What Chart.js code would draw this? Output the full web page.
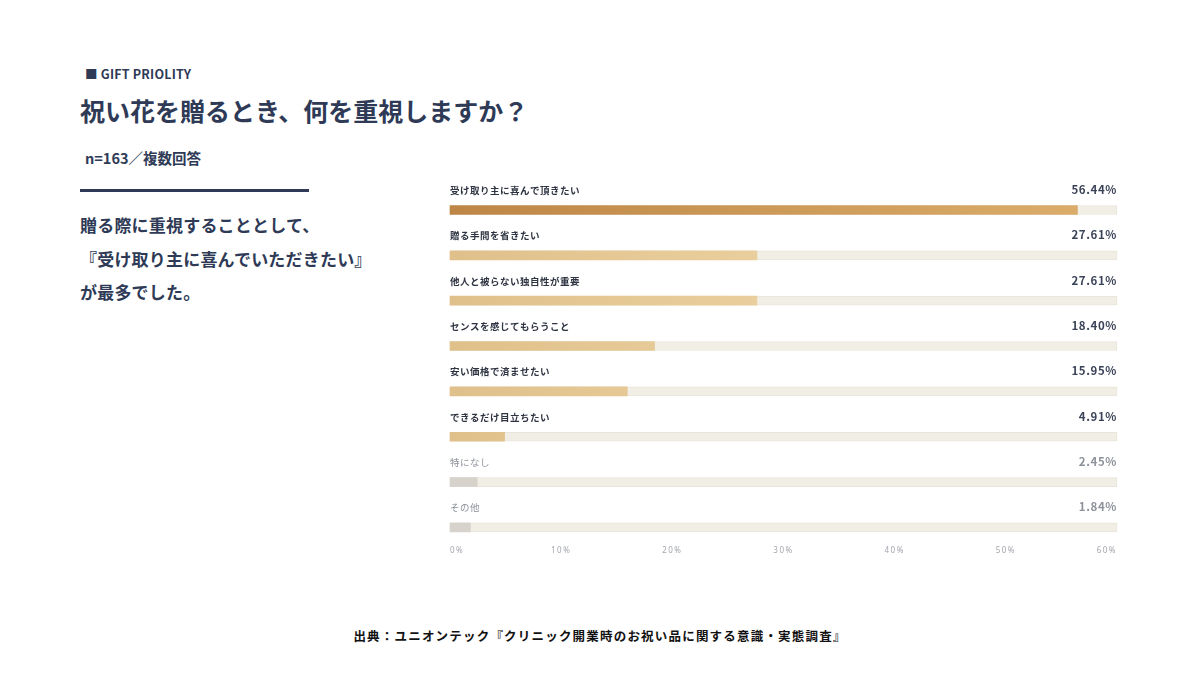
<!DOCTYPE html>
<html lang="ja">
<head>
<meta charset="utf-8">
<title>GIFT PRIOLITY</title>
<script src="https://cdn.jsdelivr.net/npm/chart.js@4.4.1/dist/chart.umd.min.js"></script>
<style>
  html, body { margin: 0; padding: 0; background: #fff; }
  body { width: 1200px; height: 675px; position: relative; overflow: hidden;
    font-family: "Noto Sans CJK JP", "Noto Sans", sans-serif; color: #2e3a56; }
  .tag { position: absolute; left: 85px; top: 64px; font-size: 12.5px; font-weight: 700; letter-spacing: 0.2px; }
  .title { position: absolute; left: 80px; top: 92px; font-size: 25px; font-weight: 700; letter-spacing: 0; }
  .n { position: absolute; left: 85px; top: 147px; font-size: 14.5px; font-weight: 700; }
  .rule { position: absolute; left: 80px; top: 189px; width: 229px; height: 3px; background: #2e3a56; }
  .lead { position: absolute; left: 80px; top: 208px; font-size: 17px; font-weight: 700; line-height: 33.5px; letter-spacing: 0.2px; }
  .src { position: absolute; left: 0; width: 1200px; top: 626px; text-align: center;
    font-size: 12.5px; font-weight: 700; color: #111; letter-spacing: 1.2px; }
  #wrap { position: absolute; left: 431px; top: 170px; width: 705px; height: 411px; }
</style>
</head>
<body>
<div class="tag">■ GIFT PRIOLITY</div>
<div class="title">祝い花を贈るとき、何を重視しますか？</div>
<div class="n">n=163／複数回答</div>
<div class="rule"></div>
<div class="lead">贈る際に重視することとして、<br>『受け取り主に喜んでいただきたい』<br>が最多でした。</div>
<div id="wrap"><canvas id="chart"></canvas></div>
<div class="src">出典：ユニオンテック『クリニック開業時のお祝い品に関する意識・実態調査』</div>

<script>
const categories = [
  '受け取り主に喜んで頂きたい',
  '贈る手間を省きたい',
  '他人と被らない独自性が重要',
  'センスを感じてもらうこと',
  '安い価格で済ませたい',
  'できるだけ目立ちたい',
  '特になし',
  'その他'
];
const values = [56.44, 27.61, 27.61, 18.40, 15.95, 4.91, 2.45, 1.84];
const trackMax = 60;
const tickValues = [0, 10, 20, 30, 40, 50, 60];
const mutedCount = 2; // last rows drawn in grey

const track = categories.map(() => trackMax);

function barFill(context) {
  const i = context.dataIndex;
  const chart = context.chart;
  const area = chart.chartArea;
  if (!area) return '#e4c792';
  if (i >= categories.length - mutedCount) return '#d7d3cc';
  const g = chart.ctx.createLinearGradient(area.left, 0, area.right, 0);
  if (i === 0) {
    g.addColorStop(0, '#bd8646');
    g.addColorStop(1, '#dcae6c');
  } else {
    g.addColorStop(0, '#e0c08a');
    g.addColorStop(0.5, '#ead09f');
    g.addColorStop(1, '#efd9ad');
  }
  return g;
}

const rowLabels = {
  id: 'rowLabels',
  beforeDraw(chart) {
    chart.ctx.letterSpacing = '1.5px';
  },
  afterDatasetsDraw(chart) {
    const { ctx, chartArea, scales } = chart;
    ctx.save();
    ctx.textBaseline = 'alphabetic';
    categories.forEach((name, i) => {
      const y = scales.y.getPixelForValue(i);
      const muted = i >= categories.length - mutedCount;
      ctx.fillStyle = muted ? '#8d919a' : '#2f3442';
      ctx.font = (muted ? '400 ' : '700 ') + '9.5px "Noto Sans CJK JP"';
      ctx.letterSpacing = '0.5px';
      ctx.textAlign = 'left';
      ctx.fillText(name, chartArea.left, y - 16);
      ctx.fillStyle = muted ? '#8d919a' : '#3a4257';
      ctx.font = '700 11.5px "Noto Sans CJK JP"';
      ctx.letterSpacing = '0.6px';
      ctx.textAlign = 'right';
      ctx.fillText(values[i].toFixed(2) + '%', chartArea.right, y - 16);
    });
    ctx.restore();
  }
};

new Chart(document.getElementById('chart'), {
  type: 'bar',
  data: {
    labels: categories,
    datasets: [
      {
        label: '回答率',
        data: values,
        backgroundColor: barFill,
        barThickness: 9,
        grouped: false,
        clip: false,
        order: 0
      },
      {
        label: 'track',
        data: track,
        backgroundColor: '#f1eee5',
        borderColor: '#e9e5da',
        borderWidth: 1,
        barThickness: 9,
        grouped: false,
        clip: false,
        order: 1
      }
    ]
  },
  options: {
    indexAxis: 'y',
    responsive: true,
    maintainAspectRatio: false,
    animation: false,
    layout: { padding: { left: 3, right: 9, top: 40, bottom: 6 } },
    plugins: {
      legend: { display: false },
      tooltip: { enabled: false }
    },
    scales: {
      y: {
        type: 'category',
        offset: false,
        display: false
      },
      x: {
        min: 0,
        max: trackMax,
        afterBuildTicks(axis) {
          axis.ticks = tickValues.map(v => ({ value: v }));
        },
        grid: { display: false, drawTicks: false },
        border: { display: false },
        ticks: {
          align: 'inner',
          padding: 19,
          color: '#a3a6ad',
          font: { family: '"Noto Sans"', size: 8 },
          callback: v => v + '%'
        }
      }
    }
  },
  plugins: [rowLabels]
});
</script>
</body>
</html>
